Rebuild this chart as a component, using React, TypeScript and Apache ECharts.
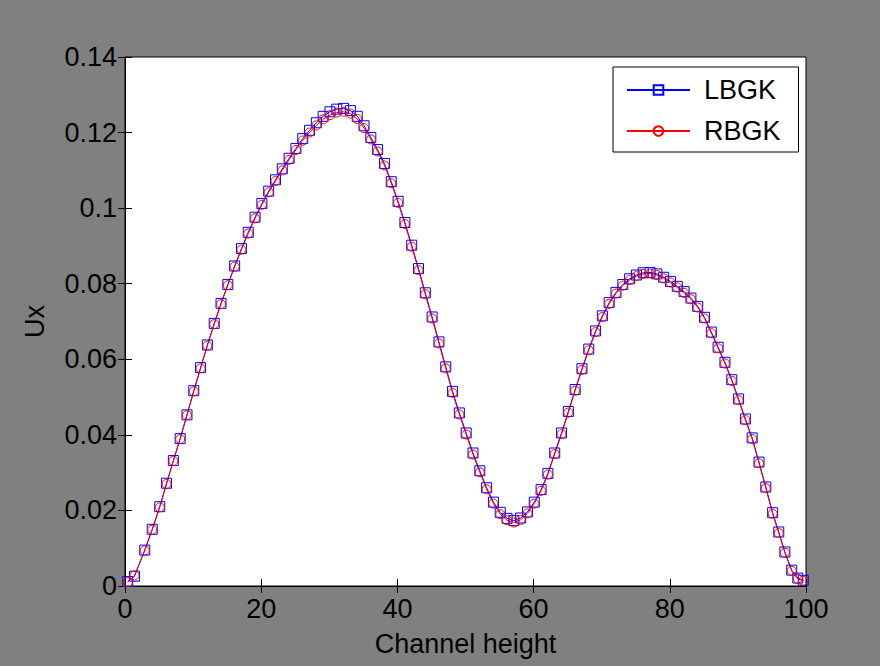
import React, { useEffect, useRef } from "react";
import * as echarts from "echarts";

const X_VALUES = [
  0.4, 1.4, 2.9, 4.0, 5.1, 6.1, 7.1, 8.1, 9.1, 10.1, 11.1, 12.1, 13.1, 14.1, 15.1, 16.1, 17.1, 18.1, 19.1, 20.1,
  21.1, 22.1, 23.1, 24.1, 25.1, 26.1, 27.1, 28.1, 29.1, 30.1, 31.1, 32.1, 33.1, 34.1, 35.1, 36.1, 37.1, 38.1, 39.1, 40.1,
  41.1, 42.1, 43.1, 44.1, 45.1, 46.1, 47.1, 48.1, 49.1, 50.1, 51.1, 52.1, 53.1, 54.1, 55.1, 56.1, 57.1, 58.1, 59.1, 60.1,
  61.1, 62.1, 63.1, 64.1, 65.1, 66.1, 67.1, 68.1, 69.1, 70.1, 71.1, 72.1, 73.1, 74.1, 75.1, 76.1, 77.1, 78.1, 79.1, 80.1,
  81.1, 82.1, 83.1, 84.1, 85.1, 86.1, 87.1, 88.1, 89.1, 90.1, 91.1, 92.1, 93.1, 94.1, 95.1, 96.0, 96.9, 97.9, 98.8, 99.6,
];

const LBGK = [
  0.0012, 0.0026, 0.0095, 0.0150, 0.0210, 0.0272, 0.0332, 0.0390, 0.0453, 0.0517,
  0.0578, 0.0638, 0.0695, 0.0748, 0.0798, 0.0847, 0.0893, 0.0936, 0.0976, 0.1012,
  0.1045, 0.1075, 0.1104, 0.1132, 0.1158, 0.1184, 0.1206, 0.1226, 0.1243, 0.1255,
  0.1262, 0.1264, 0.1258, 0.1243, 0.1218, 0.1187, 0.1155, 0.1118, 0.1070, 0.1018,
  0.0962, 0.0902, 0.0840, 0.0776, 0.0712, 0.0646, 0.0580, 0.0515, 0.0458, 0.0405,
  0.0352, 0.0305, 0.0260, 0.0222, 0.0195, 0.0179, 0.0173, 0.0180, 0.0196, 0.0222,
  0.0255, 0.0298, 0.0352, 0.0405, 0.0462, 0.0520, 0.0575, 0.0627, 0.0675, 0.0715,
  0.0750, 0.0777, 0.0798, 0.0813, 0.0823, 0.0829, 0.0830, 0.0826, 0.0817, 0.0806,
  0.0793, 0.0779, 0.0762, 0.0740, 0.0711, 0.0672, 0.0632, 0.0592, 0.0546, 0.0495,
  0.0442, 0.0392, 0.0328, 0.0262, 0.0194, 0.0143, 0.0090, 0.0042, 0.0021, 0.0015,
];

const RBGK = [
  0.0010, 0.0028, 0.0094, 0.0149, 0.0208, 0.0270, 0.0331, 0.0389, 0.0452, 0.0515,
  0.0576, 0.0636, 0.0693, 0.0746, 0.0796, 0.0845, 0.0890, 0.0933, 0.0973, 0.1009,
  0.1042, 0.1072, 0.1100, 0.1128, 0.1154, 0.1179, 0.1200, 0.1219, 0.1235, 0.1246,
  0.1253, 0.1255, 0.1250, 0.1236, 0.1212, 0.1182, 0.1150, 0.1113, 0.1066, 0.1014,
  0.0958, 0.0898, 0.0836, 0.0772, 0.0708, 0.0642, 0.0576, 0.0511, 0.0454, 0.0401,
  0.0348, 0.0301, 0.0256, 0.0218, 0.0190, 0.0174, 0.0168, 0.0175, 0.0192, 0.0218,
  0.0252, 0.0295, 0.0349, 0.0402, 0.0459, 0.0517, 0.0572, 0.0624, 0.0672, 0.0712,
  0.0747, 0.0774, 0.0795, 0.0810, 0.0820, 0.0826, 0.0827, 0.0823, 0.0814, 0.0803,
  0.0790, 0.0776, 0.0759, 0.0737, 0.0708, 0.0669, 0.0629, 0.0589, 0.0543, 0.0492,
  0.0439, 0.0389, 0.0325, 0.0259, 0.0191, 0.0140, 0.0088, 0.0040, 0.0019, 0.0014,
];

const SERIES_NAMES = ["LBGK", "RBGK"];
const X_NAME = "Channel height";
const Y_NAME = "Ux";

const FONT = "'Liberation Sans', Arial, Helvetica, sans-serif";
const FS = 27;

export default function App() {
  const ref = useRef<HTMLDivElement>(null);

  useEffect(() => {
    if (!ref.current) return;
    const chart = echarts.init(ref.current, null, { renderer: "svg" });
    const commonAxis = {
      axisLine: { show: true, lineStyle: { color: "#000", width: 1 } },
      axisTick: { show: true, inside: true, length: 7, lineStyle: { color: "#000", width: 1 } },
      splitLine: { show: false },
    };
    chart.setOption({
      animation: false,
      backgroundColor: "#808080",
      textStyle: { fontFamily: FONT },
      grid: {
        left: 125,
        right: 74,
        top: 57,
        bottom: 80,
        show: true,
        backgroundColor: "#ffffff",
        borderColor: "#000",
        borderWidth: 1,
      },
      legend: {
        data: SERIES_NAMES,
        orient: "vertical",
        left: 613,
        top: 67,
        padding: [8, 18, 6, 13],
        itemWidth: 63,
        itemHeight: 12,
        itemGap: 11,
        backgroundColor: "#ffffff",
        borderColor: "#000",
        borderWidth: 1,
        textStyle: { fontSize: FS, color: "#000", fontFamily: FONT, lineHeight: 30, padding: [0, 0, 0, 9] },
      },
      xAxis: [
        {
          type: "value",
          min: 0,
          max: 100,
          interval: 20,
          position: "bottom",
          ...commonAxis,
          axisLabel: { fontSize: FS, color: "#000", fontFamily: FONT, margin: 9 },
          name: X_NAME,
          nameLocation: "middle",
          nameGap: 44,
          nameTextStyle: { fontSize: FS, color: "#000", fontFamily: FONT },
        },
        {
          type: "value",
          min: 0,
          max: 100,
          interval: 20,
          position: "top",
          ...commonAxis,
          axisLabel: { show: false },
        },
      ],
      yAxis: [
        {
          type: "value",
          min: 0,
          max: 0.14,
          interval: 0.02,
          position: "left",
          ...commonAxis,
          axisLabel: {
            fontSize: FS,
            color: "#000",
            fontFamily: FONT,
            margin: 8,
            formatter: (v: number) => String(Number(v.toFixed(2))),
          },
          name: Y_NAME,
          nameLocation: "middle",
          nameGap: 77,
          nameTextStyle: { fontSize: FS, color: "#000", fontFamily: FONT },
        },
        {
          type: "value",
          min: 0,
          max: 0.14,
          interval: 0.02,
          position: "right",
          ...commonAxis,
          axisLabel: { show: false },
        },
      ],
      series: [
        {
          name: "LBGK",
          type: "line",
          xAxisIndex: 0,
          yAxisIndex: 0,
          data: X_VALUES.map((x, i) => [x, LBGK[i]]),
          symbol: "rect",
          symbolSize: 10,
          showAllSymbol: true,
          lineStyle: { color: "#0000ff", width: 1 },
          itemStyle: { color: "rgba(0,0,0,0)", borderColor: "#0000ff", borderWidth: 1 },
          emphasis: { disabled: true },
        },
        {
          name: "RBGK",
          type: "line",
          xAxisIndex: 0,
          yAxisIndex: 0,
          data: X_VALUES.map((x, i) => [x, RBGK[i]]),
          symbol: "circle",
          symbolSize: 9,
          showAllSymbol: true,
          lineStyle: { color: "#ff0000", width: 1 },
          itemStyle: { color: "rgba(0,0,0,0)", borderColor: "#ff0000", borderWidth: 1 },
          emphasis: { disabled: true },
        },
      ],
    });
    return () => chart.dispose();
  }, []);

  return (
    <div
      ref={ref}
      style={{ position: "absolute", left: 0, top: 0, width: 880, height: 666 }}
    />
  );
}
